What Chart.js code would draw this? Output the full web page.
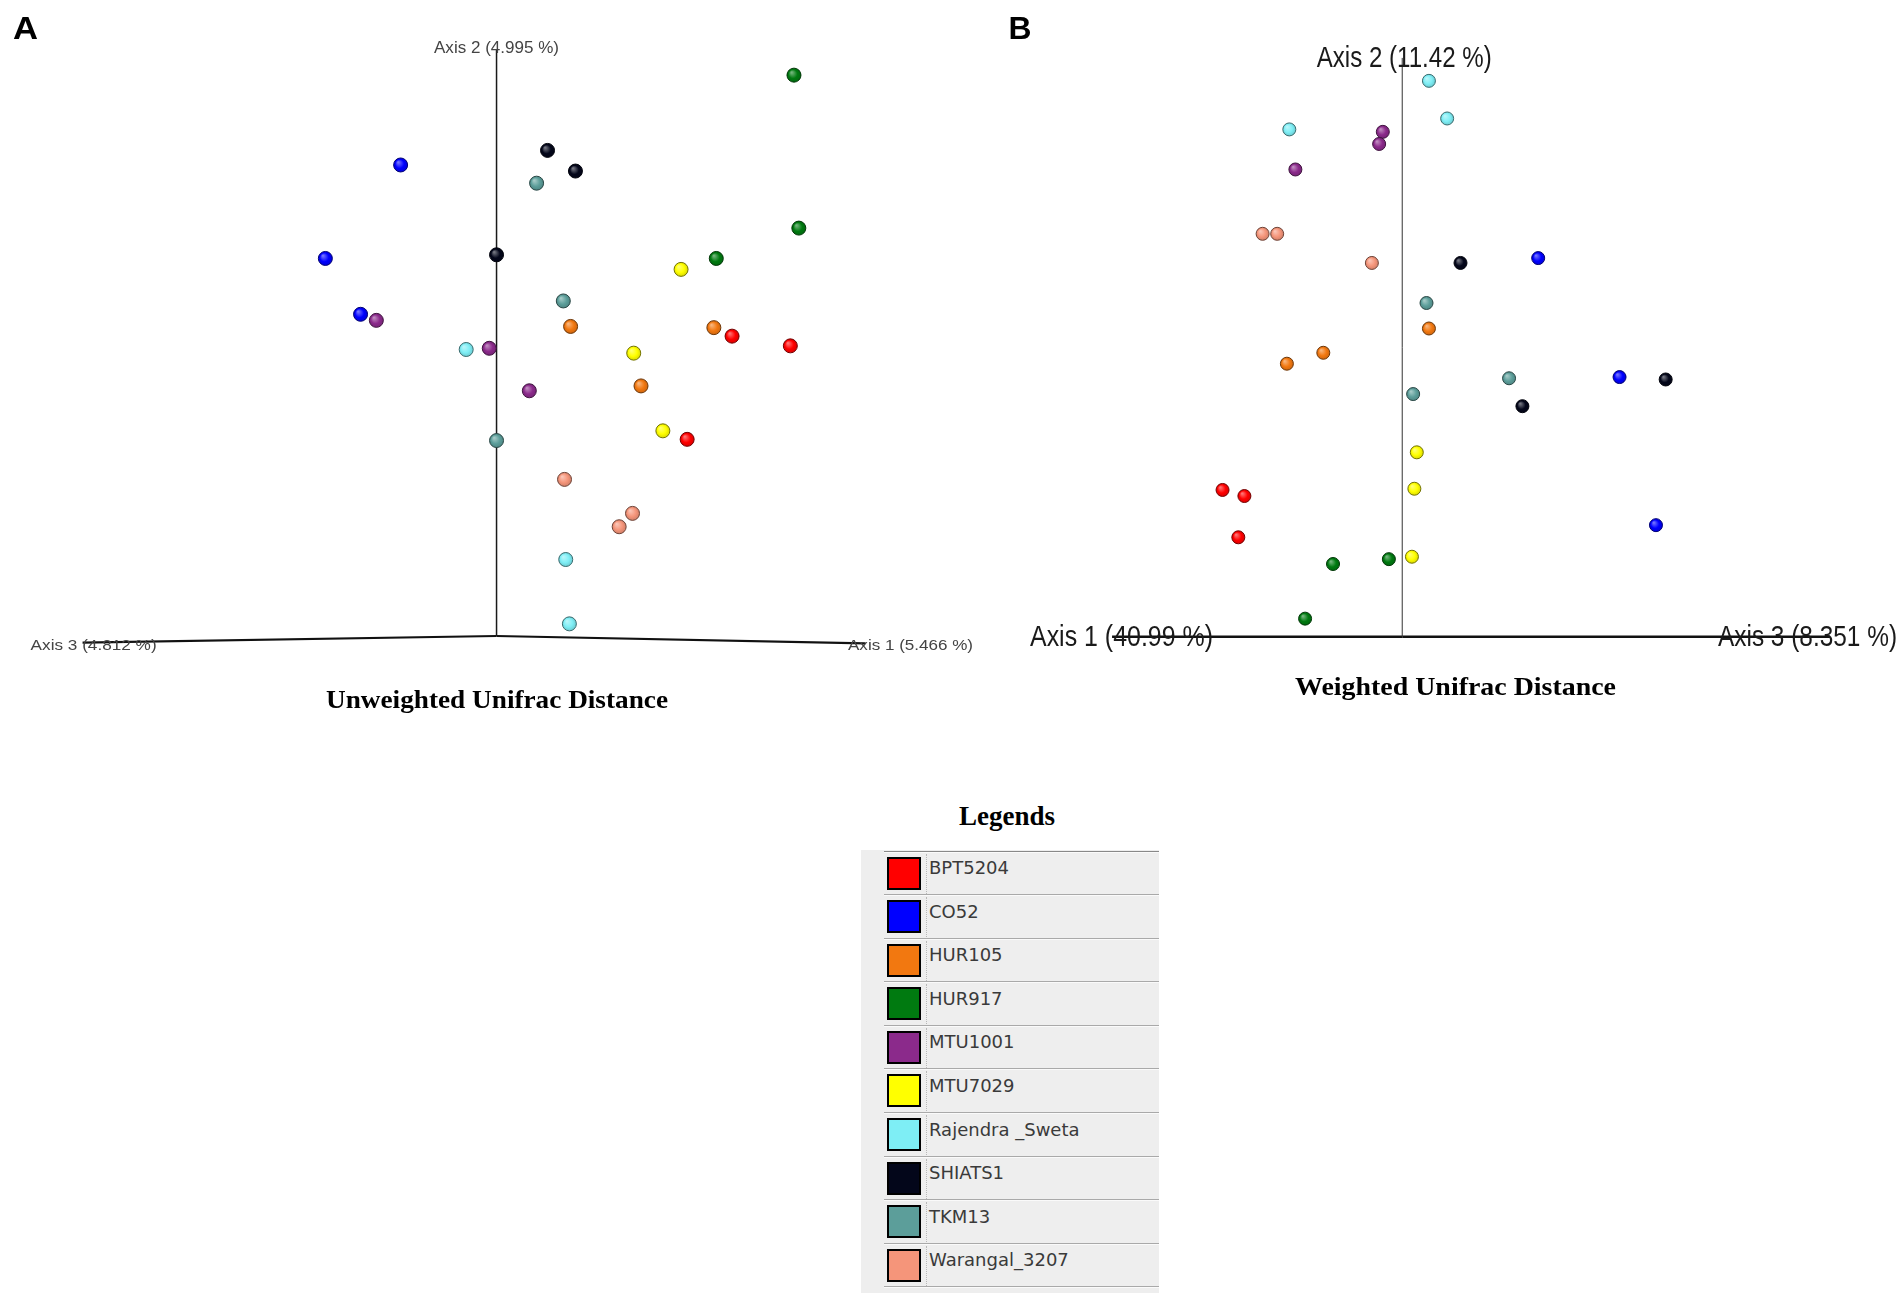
<!DOCTYPE html>
<html>
<head>
<meta charset="utf-8">
<script src="https://cdn.jsdelivr.net/npm/chart.js@4.4.1/dist/chart.umd.min.js"></script>
<style>
  html, body { margin: 0; padding: 0; background: #fff; }
  body { width: 1904px; height: 1296px; position: relative; overflow: hidden; }
  canvas { position: absolute; top: 0; }
  #legendTitle { position: absolute; left: 857px; top: 803px; width: 300px; text-align: center;
    font: bold 27px 'Liberation Serif', serif; line-height: 27px; color: #000; }
  #legendBox { position: absolute; left: 861px; top: 850px; width: 298px; height: 443px; background: #eeeeee; }
  .row { position: absolute; left: 884px; width: 275px; height: 43.5px; border-top: 1px solid #a9a9a9;
    box-shadow: inset 0 1px 0 #fafafa; box-sizing: border-box; }
  .swatch { position: absolute; left: 2.7px; top: 5px; width: 30px; height: 29px; border: 2px solid #000; }
  .sep { position: absolute; left: 42px; top: 2px; height: 40px; border-left: 1px dotted #b8b8b8; }
  .name { position: absolute; left: 45px; top: 7.5px; font: 18px 'DejaVu Sans', sans-serif; line-height: 18px;
    color: #3a3a3a; white-space: nowrap; }
</style>
</head>
<body>
<canvas id="uwChart" width="1000" height="720" style="left:0"></canvas>
<canvas id="wChart" width="904" height="720" style="left:1000px"></canvas>
<div id="legendTitle">Legends</div>
<div id="legendBox"></div>
<div id="legendRows"></div>

<script>
// cultivars, in legend order
const groups = ['BPT5204', 'CO52', 'HUR105', 'HUR917', 'MTU1001', 'MTU7029',
  'Rajendra _Sweta', 'SHIATS1', 'TKM13', 'Warangal_3207'];
const groupColors = ['#ff0000', '#0000ff', '#f27810', '#007a10', '#8b2a8b', '#ffff00',
  '#7eeef5', '#03061a', '#5c9e9a', '#f5957a'];

// PCoA coordinates (projected), 3 samples per cultivar, same order as groups
const unweightedX = [
  0.194, 0.242, 0.157,
  -0.079, -0.141, -0.112,
  0.061, 0.179, 0.119,
  0.245, 0.249, 0.181,
  -0.099, -0.006, 0.027,
  0.152, 0.113, 0.137,
  -0.025, 0.057, 0.060,
  0.042, 0.065, 0.000,
  0.033, 0.055, 0.000,
  0.056, 0.112, 0.101
];
const unweightedY = [
  0.247, 0.239, 0.162,
  0.388, 0.311, 0.265,
  0.255, 0.254, 0.206,
  0.462, 0.336, 0.311,
  0.260, 0.237, 0.202,
  0.302, 0.233, 0.169,
  0.236, 0.063, 0.010,
  0.400, 0.383, 0.314,
  0.373, 0.276, 0.161,
  0.129, 0.101, 0.090
];
const weightedX = [
  -0.148, -0.130, -0.135,
  0.112, 0.179, 0.209,
  0.022, -0.065, -0.095,
  -0.057, -0.011, -0.080,
  -0.016, -0.019, -0.088,
  0.012, 0.010, 0.008,
  0.022, 0.037, -0.093,
  0.048, 0.217, 0.099,
  0.020, 0.088, 0.009,
  -0.115, -0.103, -0.025
];
const weightedY = [
  0.121, 0.116, 0.082,
  0.312, 0.214, 0.092,
  0.254, 0.234, 0.225,
  0.060, 0.064, 0.015,
  0.416, 0.406, 0.385,
  0.152, 0.122, 0.066,
  0.458, 0.427, 0.418,
  0.308, 0.212, 0.190,
  0.275, 0.213, 0.200,
  0.332, 0.332, 0.308
];

// projected axis ends (x, y) drawn from the origin
const unweightedAxisX = [0, -0.341, 0.3035];
const unweightedAxisY = [0.4835, -0.0055, -0.006];
const weightedAxisX = [0, -0.239, 0.3523];
const weightedAxisY = [0.4769, 0, 0];

const unweightedLabels = ['Axis 2 (4.995 %)', 'Axis 3 (4.812 %)', 'Axis 1 (5.466 %)'];
const weightedLabels = ['Axis 2 (11.42 %)', 'Axis 1 (40.99 %)', 'Axis 3 (8.351 %)'];
const panelTitles = ['Unweighted Unifrac Distance', 'Weighted Unifrac Distance'];

function mix(hex, target, t) {
  const a = parseInt(hex.slice(1), 16), b = parseInt(target.slice(1), 16);
  const ch = (v, s) => (v >> s) & 255;
  const m = s => Math.round(ch(a, s) + (ch(b, s) - ch(a, s)) * t);
  return 'rgb(' + m(16) + ',' + m(8) + ',' + m(0) + ')';
}

function fitText(ctx, t) {
  ctx.save();
  ctx.font = t.font;
  ctx.fillStyle = t.color;
  ctx.textAlign = 'left';
  ctx.textBaseline = 'alphabetic';
  const w = ctx.measureText(t.text).width;
  ctx.translate(t.left, t.baseline);
  ctx.scale(t.width / w, 1);
  ctx.fillText(t.text, 0, 0);
  ctx.restore();
}

function makePanel(id, xs, ys, axX, axY, axStyle, range, radius, texts) {
  const datasets = [];

  // the three projected axes
  axX.forEach((ex, i) => {
    datasets.push({
      data: [{x: 0, y: 0}, {x: ex, y: axY[i]}],
      showLine: true,
      pointRadius: 0,
      borderColor: axStyle[i].color,
      borderWidth: axStyle[i].width,
      order: 2,
      clip: false
    });
  });

  groups.forEach((name, g) => {
    const color = groupColors[g];
    const pts = [];
    for (let k = g * 3; k < g * 3 + 3; k++) pts.push({x: xs[k], y: ys[k]});
    datasets.push({
      label: name,
      data: pts,
      pointRadius: radius,
      pointBorderWidth: 1,
      pointBorderColor: mix(color, '#000000', 0.55),
      pointBackgroundColor: (c) => {
        if (c.type !== 'data' || !c.parsed) return color;
        const ch = c.chart;
        if (!ch.scales || !ch.scales.x || !ch.scales.y) return color;
        const px = ch.scales.x.getPixelForValue(c.parsed.x);
        const py = ch.scales.y.getPixelForValue(c.parsed.y);
        if (!isFinite(px) || !isFinite(py)) return color;
        const grad = ch.ctx.createRadialGradient(px - radius * 0.35, py - radius * 0.4, 0.5, px, py, radius);
        grad.addColorStop(0, mix(color, '#ffffff', 0.45));
        grad.addColorStop(0.6, color);
        grad.addColorStop(1, mix(color, '#000000', 0.15));
        return grad;
      },
      order: 1,
      clip: false
    });
  });

  const textPlugin = {
    id: 'panelText',
    afterDraw(chart) {
      texts.forEach(t => fitText(chart.ctx, t));
    }
  };

  return new Chart(document.getElementById(id), {
    type: 'scatter',
    data: { datasets },
    options: {
      responsive: false,
      devicePixelRatio: 1,
      animation: false,
      events: [],
      layout: { padding: 0, autoPadding: false },
      plugins: { legend: { display: false }, tooltip: { enabled: false } },
      scales: {
        x: { type: 'linear', display: false, min: range[0], max: range[1] },
        y: { type: 'linear', display: false, min: range[2], max: range[3] }
      }
    },
    plugins: [textPlugin]
  });
}

const sansA = '16px "Liberation Sans", Arial, sans-serif';
const sansA2 = '15.5px "Liberation Sans", Arial, sans-serif';
const sansB = '29px "Liberation Sans", Arial, sans-serif';
const titleFont = 'bold 25px "Liberation Serif", "Times New Roman", serif';
const letterFont = 'bold 32px "Liberation Sans", Arial, sans-serif';

makePanel('uwChart', unweightedX, unweightedY, unweightedAxisX, unweightedAxisY,
  [{color: '#1a1a1a', width: 1.5}, {color: '#111', width: 2.2}, {color: '#111', width: 2.2}],
  [-0.4090, 0.4147, -0.0692, 0.5239], 7,
  [
    {text: 'A', left: 13, baseline: 39, width: 25, font: letterFont, color: '#000'},
    {text: unweightedLabels[0], left: 434, baseline: 53.3, width: 125, font: sansA, color: '#444'},
    {text: unweightedLabels[1], left: 30.6, baseline: 650, width: 126, font: sansA2, color: '#444'},
    {text: unweightedLabels[2], left: 848, baseline: 650, width: 125, font: sansA2, color: '#444'},
    {text: panelTitles[0], left: 326, baseline: 708, width: 342, font: titleFont, color: '#000'}
  ]);

makePanel('wChart', weightedX, weightedY, weightedAxisX, weightedAxisY,
  [{color: '#333', width: 1}, {color: '#111', width: 2.5}, {color: '#111', width: 2.5}],
  [-0.3313, 0.4133, -0.0685, 0.5246], 6.5,
  [
    {text: 'B', left: 8.6, baseline: 39, width: 23, font: letterFont, color: '#000'},
    {text: weightedLabels[0], left: 316.7, baseline: 67, width: 175, font: sansB, color: '#1a1a1a'},
    {text: weightedLabels[1], left: 30, baseline: 646, width: 183, font: sansB, color: '#1a1a1a'},
    {text: weightedLabels[2], left: 718, baseline: 646, width: 179, font: sansB, color: '#1a1a1a'},
    {text: panelTitles[1], left: 295, baseline: 694.5, width: 321, font: titleFont, color: '#000'}
  ]);

// legend table
const rowsEl = document.getElementById('legendRows');
groups.forEach((name, i) => {
  const row = document.createElement('div');
  row.className = 'row';
  row.style.top = (850.7 + i * 43.55) + 'px';
  if (i === 0) row.style.borderTopColor = '#888';
  row.innerHTML = '<div class="swatch" style="background:' + groupColors[i] + '"></div>' +
    '<div class="sep"></div><div class="name"></div>';
  row.querySelector('.name').textContent = name;
  rowsEl.appendChild(row);
});
const last = document.createElement('div');
last.className = 'row';
last.style.top = (850.7 + groups.length * 43.55) + 'px';
last.style.height = '6px';
rowsEl.appendChild(last);
</script>
</body>
</html>
